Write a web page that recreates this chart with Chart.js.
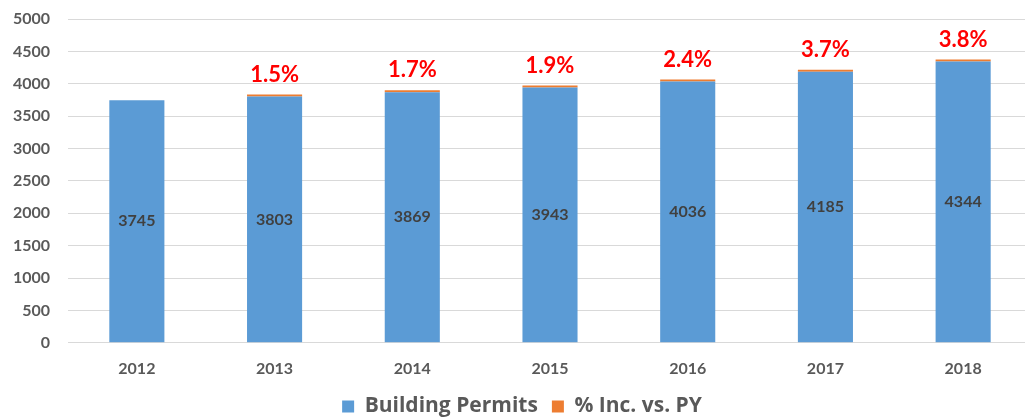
<!DOCTYPE html>
<html>
<head>
<meta charset="utf-8">
<script src="https://cdn.jsdelivr.net/npm/chart.js@4.4.1/dist/chart.umd.min.js"></script>
<style>
  html, body { margin: 0; padding: 0; background: #ffffff; overflow: hidden; }
  #wrap { position: absolute; left: 0; top: 0; width: 1044px; height: 419px; }
</style>
</head>
<body>
<div id="wrap"><canvas id="permitsChart"></canvas></div>
<script>
// chart data
const years = ['2012', '2013', '2014', '2015', '2016', '2017', '2018'];
const permits = [3745, 3803, 3869, 3943, 4036, 4185, 4344];
const pctInc = [null, 1.5, 1.7, 1.9, 2.4, 3.7, 3.8];
const yTicks = [0, 500, 1000, 1500, 2000, 2500, 3000, 3500, 4000, 4500, 5000];

const FONT = 'Lato, "Open Sans", sans-serif';

// labels drawn on top of the bars
const barLabels = {
    id: 'barLabels',
    afterDatasetsDraw(chart) {
        const ctx = chart.ctx;
        ctx.save();
        ctx.textAlign = 'center';
        ctx.textBaseline = 'middle';

        // permit counts, centred in the blue bars
        ctx.font = 'bold 16px ' + FONT;
        ctx.fillStyle = '#404040';
        chart.getDatasetMeta(0).data.forEach(function (bar, i) {
            const mid = (bar.y + bar.base) / 2;
            ctx.fillText(String(permits[i]), bar.x, mid);
        });

        // % increase above the stack, in red
        ctx.font = 'bold 22px ' + FONT;
        ctx.fillStyle = '#ff0000';
        chart.getDatasetMeta(1).data.forEach(function (bar, i) {
            if (pctInc[i] === null) return;
            ctx.fillText(pctInc[i].toFixed(1) + '%', bar.x, bar.y - 20);
        });
        ctx.restore();
    }
};

const ctx = document.getElementById('permitsChart').getContext('2d');
new Chart(ctx, {
    type: 'bar',
    data: {
        labels: years,
        datasets: [{
            label: 'Building Permits',
            data: permits,
            backgroundColor: '#5b9bd5',
            categoryPercentage: 1.0,
            barPercentage: 0.4
        }, {
            label: '% Inc. vs. PY',
            data: pctInc,
            backgroundColor: '#ed7d31',
            categoryPercentage: 1.0,
            barPercentage: 0.4,
            minBarLength: 2
        }]
    },
    options: {
        responsive: true,
        maintainAspectRatio: false,
        animation: false,
        layout: { padding: { left: 0, right: 0, top: 19, bottom: -8 } },
        plugins: {
            legend: {
                position: 'bottom',
                labels: {
                    boxWidth: 12,
                    boxHeight: 12,
                    padding: 14,
                    color: '#595959',
                    font: { family: '"Open Sans", sans-serif', size: 21, weight: 'bold' }
                }
            },
            tooltip: { enabled: false }
        },
        scales: {
            x: {
                stacked: true,
                grid: { display: false },
                border: { display: false },
                afterFit(scale) { scale.height -= 4; },
                ticks: {
                    color: '#595959',
                    padding: 8,
                    font: { family: FONT, size: 16, weight: 'bold' }
                }
            },
            y: {
                stacked: true,
                min: 0,
                max: 5000,
                afterFit(scale) {
                    scale.width = 68;
                    scale.paddingTop = 0;
                },
                afterBuildTicks(scale) { scale.ticks = yTicks.map(function (v) { return { value: v }; }); },
                grid: { color: '#d9d9d9', drawTicks: false },
                border: { display: false },
                ticks: {
                    color: '#595959',
                    padding: 18,
                    font: { family: FONT, size: 16, weight: 'bold' },
                    callback: function (v) { return String(v); }
                }
            },
            // empty right-hand spacer so the legend stays centred like the original
            spacer: {
                position: 'right',
                grid: { display: false },
                border: { display: false },
                ticks: { display: false },
                afterFit(scale) {
                    scale.width = 12;
                    scale.paddingTop = 0;
                }
            }
        }
    },
    plugins: [barLabels]
});
</script>
</body>
</html>
